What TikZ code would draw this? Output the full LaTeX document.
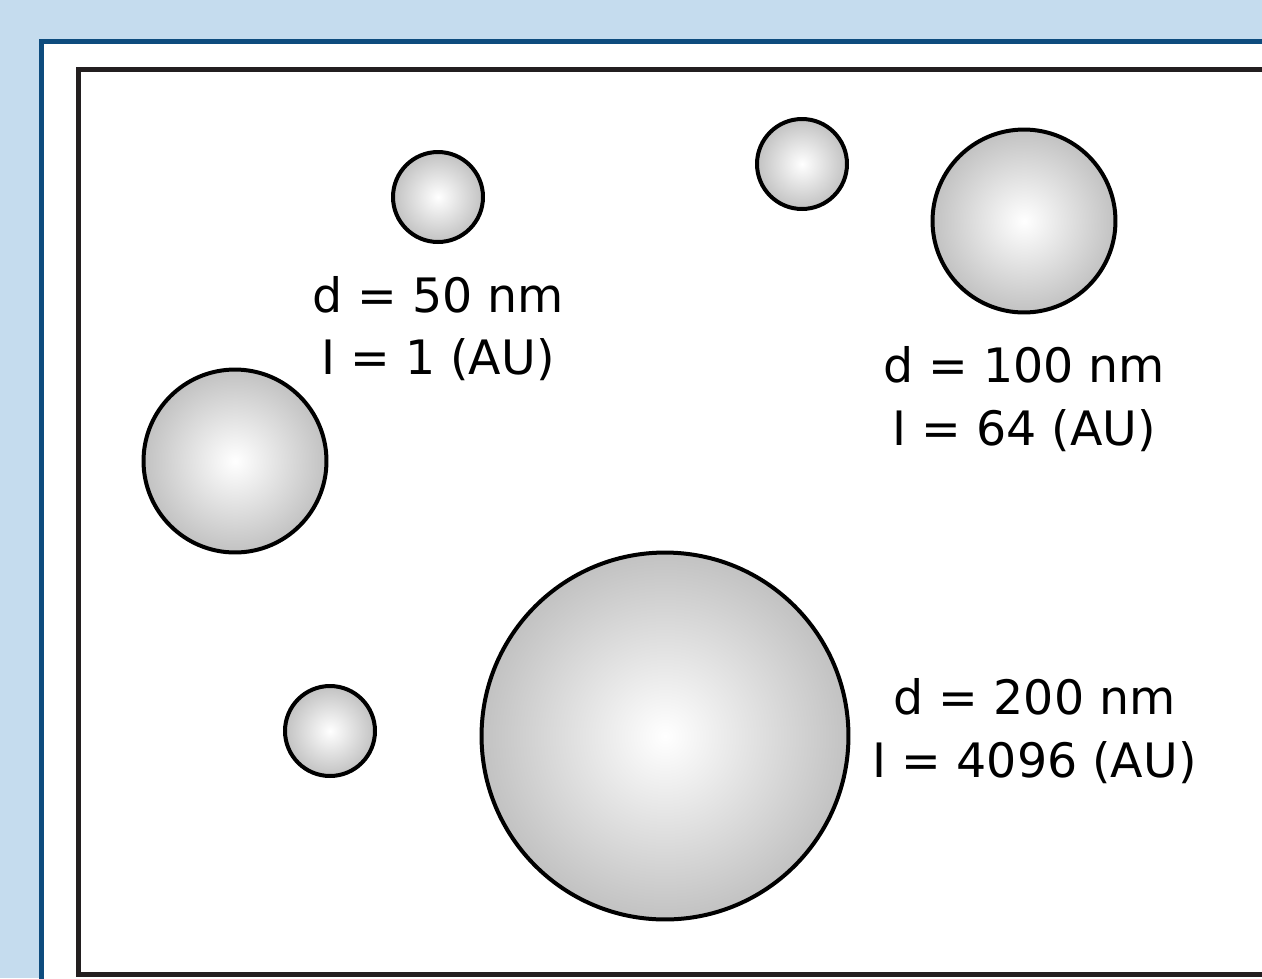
\documentclass[tikz,border=0pt]{standalone}
\usepackage{fontspec}
\setmainfont{DejaVu Sans}
\usetikzlibrary{positioning}
\definecolor{skyback}{HTML}{C5DCEE}
\definecolor{frameblue}{HTML}{0E4C7E}
\definecolor{frameblack}{HTML}{231F20}
\tikzset{
  particle/.style={
    circle,
    draw=black,
    line width=0.08cm,
    inner sep=0pt,
    inner color=white,
    outer color=black!24
  },
  small/.style={particle,minimum size=1.8cm},
  medium/.style={particle,minimum size=3.66cm},
  large/.style={particle,minimum size=7.34cm},
  sizelabel/.style={
    align=center,
    inner sep=0pt,
    font=\fontsize{27}{35.5}\selectfont
  }
}

\begin{document}
\begin{tikzpicture}[x=0.02cm,y=-0.02cm]
    \clip (0,0) rectangle (1262,978);
    \fill[skyback] (0,0) rectangle (1262,978);
    \draw[frameblue,fill=white,line width=0.1cm] (41.5,41) rectangle (1320,1030);
    \draw[frameblack,line width=0.1cm] (78.5,69) rectangle (1320,974.5);

    \node[small] (s1) at (438,197) {};
    \node[small] (s2) at (802,164) {};
    \node[small] (s3) at (330,731) {};
    \node[medium] (m1) at (1024,221) {};
    \node[medium] (m2) at (235,461) {};
    \node[large] (big) at (665,736) {};

    \node[sizelabel,below=0.64cm of s1] (l50) {d = 50 nm\\I = 1 (AU)};
    \node[sizelabel,below=0.64cm of m1] (l100) {d = 100 nm\\I = 64 (AU)};
    \node[sizelabel,right=0.44cm of big,yshift=0.1cm] (l200) {d = 200 nm\\I = 4096 (AU)};
  \end{tikzpicture}
\end{document}
